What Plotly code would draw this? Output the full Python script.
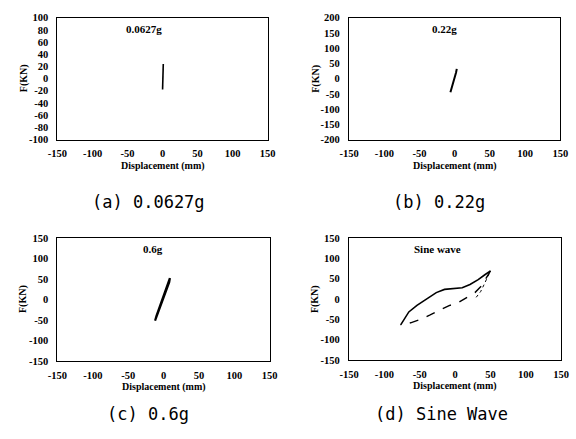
import plotly.graph_objects as go

W, H = 576, 439

# ---- data ----
x_ticks = [-150, -100, -50, 0, 50, 100, 150]
y_ticks_a = [-100, -80, -60, -40, -20, 0, 20, 40, 60, 80, 100]
y_ticks_b = [-200, -150, -100, -50, 0, 50, 100, 150, 200]
y_ticks_cd = [-150, -100, -50, 0, 50, 100, 150]

a_x = [0.0, 0.3, 0.6, 1.0]
a_y = [-18, -5, 8, 24]

b_x = [-6, -4, -2, 0, 2, 3]
b_y = [-45, -30, -14, 3, 20, 32]

c_x = [-12, -8, -4, 0, 4, 8, 9, 6, 2, -2, -6, -10, -12]
c_y = [-52, -34, -16, 2, 20, 42, 52, 38, 18, 0, -20, -40, -52]

d_up_x = [-77, -71.5, -65.5, -54, -40, -26.7, -15, -4, 10, 21, 32.6, 42, 50]
d_up_y = [-64, -48, -32, -16, 0, 15.6, 23.5, 26, 27.6, 35.5, 47.5, 59.5, 69]
d_dn_x = [50, 44, 37, 28, 16.7, 5, -8.5, -22, -36, -49.6, -63, -77]
d_dn_y = [69, 51.6, 31.6, 15.6, 3.6, -8.4, -16.4, -28.4, -40, -50.7, -58.7, -64]
d2_x = [48, 44, 40, 36, 32, 28]
d2_y = [62, 45, 32, 18, 8, 0]

panels = [
    dict(yt=y_ticks_a, title="0.0627g", tx=0.41, caption="(a) 0.0627g"),
    dict(yt=y_ticks_b, title="0.22g", tx=0.45, caption="(b) 0.22g"),
    dict(yt=y_ticks_cd, title="0.6g", tx=0.45, caption="(c) 0.6g"),
    dict(yt=y_ticks_cd, title="Sine wave", tx=0.415, caption="(d) Sine Wave"),
]

# plot-area pixel boxes (left, right, top, bottom)
boxes = [(49, 266, 13, 138), (350, 568, 13, 138),
         (49, 268, 239, 365), (350, 569, 239, 364)]

fig = go.Figure()
serif = "Liberation Serif"
tickfont = dict(family=serif, size=10.5, color="black")

line = dict(color="black", width=1.6)
fig.add_trace(go.Scatter(x=a_x, y=a_y, mode="lines", line=line, xaxis="x", yaxis="y"))
fig.add_trace(go.Scatter(x=b_x, y=b_y, mode="lines", line=dict(color="black", width=2), xaxis="x2", yaxis="y2"))
fig.add_trace(go.Scatter(x=c_x, y=c_y, mode="lines", line=dict(color="black", width=2.2), xaxis="x3", yaxis="y3"))
fig.add_trace(go.Scatter(x=d_up_x, y=d_up_y, mode="lines", line=line, xaxis="x4", yaxis="y4"))
fig.add_trace(go.Scatter(x=d_dn_x, y=d_dn_y, mode="lines", line=dict(color="black", width=1.4, dash="dash"), xaxis="x4", yaxis="y4"))
fig.add_trace(go.Scatter(x=d2_x, y=d2_y, mode="lines", line=dict(color="black", width=1, dash="dot"), xaxis="x4", yaxis="y4"))

layout = dict(width=W, height=H, margin=dict(l=0, r=0, t=0, b=0),
              paper_bgcolor="white", plot_bgcolor="white", showlegend=False)
annotations = []
for i, (p, (l, r, t, b)) in enumerate(zip(panels, boxes)):
    k = "" if i == 0 else str(i + 1)
    xd = [l / W, r / W]
    yd = [1 - b / H, 1 - t / H]
    common = dict(showline=True, mirror=True, linecolor="black", linewidth=1.2,
                  showgrid=False, zeroline=False, tickfont=tickfont, ticks="")
    layout["xaxis" + k] = dict(domain=xd, range=[-150, 150], tickmode="array",
                               tickvals=x_ticks, ticktext=["<b>%d</b>" % v for v in x_ticks],
                               anchor="y" + k, ticklabelstandoff=4, **common)
    yt = p["yt"]
    layout["yaxis" + k] = dict(domain=yd, range=[yt[0], yt[-1]], tickmode="array",
                               tickvals=yt, ticktext=["<b>%d</b>" % v for v in yt],
                               anchor="x" + k, ticklabelstandoff=6, **common)
    # inner title
    annotations.append(dict(text="<b>%s</b>" % p["title"], xref="x%s domain" % k,
                            yref="y%s domain" % k, x=p["tx"], y=0.91, showarrow=False,
                            xanchor="center", yanchor="middle",
                            font=dict(family=serif, size=11, color="black")))
    # x axis title
    annotations.append(dict(text="<b>Displacement (mm)</b>", xref="paper", yref="paper",
                            x=(l + r) / 2 / W, y=1 - (b + 27) / H, showarrow=False,
                            xanchor="center", yanchor="middle",
                            font=dict(family=serif, size=10, color="black")))
    # y axis title
    annotations.append(dict(text="<b>F(KN)</b>", xref="paper", yref="paper",
                            x=(l - 35) / W, y=1 - (t + b) / 2 / H, showarrow=False,
                            textangle=-90, xanchor="center", yanchor="middle",
                            font=dict(family=serif, size=10, color="black")))
    # caption
    cy = 202 if i < 2 else 420
    cx = [143, 443, 142, 445][i]
    annotations.append(dict(text=p["caption"], xref="paper", yref="paper",
                            x=cx / W, y=1 - cy / H, showarrow=False,
                            xanchor="center", yanchor="middle",
                            font=dict(family="DejaVu Sans Mono", size=17, color="black")))

layout["annotations"] = annotations
fig.update_layout(**layout)
fig.write_html("out.html")
